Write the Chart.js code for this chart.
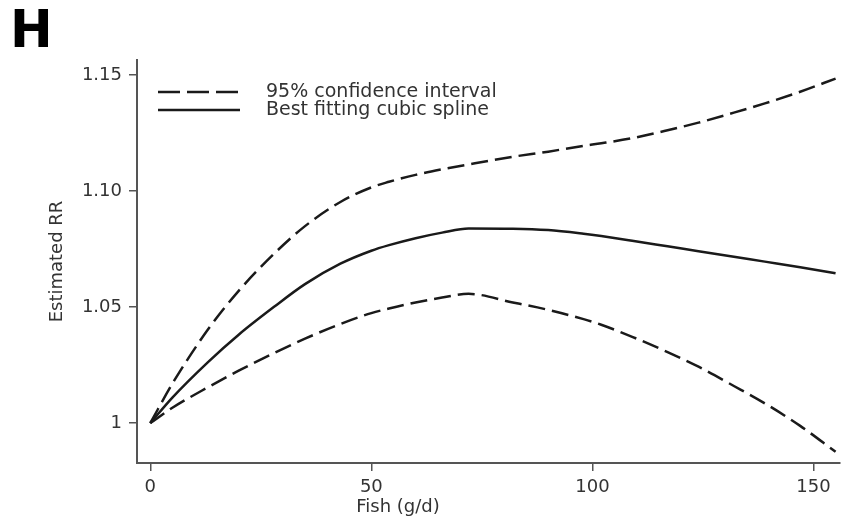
<!DOCTYPE html>
<html>
<head>
<meta charset="utf-8">
<title>Estimated RR by fish intake</title>
<script src="https://cdn.jsdelivr.net/npm/chart.js@4.4.1/dist/chart.umd.min.js"></script>
<style>
  html, body { margin: 0; padding: 0; background: #fff; }
  #wrap { position: relative; width: 846px; height: 522px; }
</style>
</head>
<body>
<div id="wrap"><canvas id="chart"></canvas></div>
<script>
// fish intake (g/d) where each curve was read
const fishGd = [0, 5, 13, 20, 28, 35, 43, 50, 54, 60, 66, 72, 82, 90, 98, 102, 109, 117, 124, 132, 139, 147, 155];

const upperCI = [1.000, 1.017, 1.0402, 1.057, 1.073, 1.0849, 1.0953, 1.1016, 1.104, 1.107, 1.1094, 1.1115,
  1.1148, 1.1170, 1.1195, 1.1206, 1.1228, 1.1262, 1.1295, 1.1338, 1.1378, 1.1428, 1.1485];

const spline = [1.000, 1.011, 1.0262, 1.0381, 1.0501, 1.0599, 1.0687, 1.0743, 1.0767, 1.0797, 1.0821, 1.0839,
  1.0838, 1.0832, 1.0816, 1.0806, 1.0786, 1.0762, 1.0741, 1.0717, 1.0696, 1.0672, 1.0646];

const lowerCI = [1.000, 1.0066, 1.0154, 1.0226, 1.0302, 1.0364, 1.0427, 1.0474, 1.0494, 1.0520, 1.0541, 1.0557,
  1.0520, 1.0488, 1.0448, 1.0424, 1.0372, 1.0306, 1.0243, 1.0160, 1.0085, 0.9988, 0.9876];

const xTickValues = [0, 50, 100, 150];
const yTickValues = [1, 1.05, 1.10, 1.15];
const yTickLabels = ['1', '1.05', '1.10', '1.15'];

const seriesLabels = ['95% confidence interval', 'Best fitting cubic spline'];

const INK = '#1a1a1a';
const AXIS = '#555';
const TEXT = '#333';
const DASH = [17, 7];
const FONT = 'DejaVu Sans';

function points(ys) {
  return fishGd.map((x, i) => ({ x, y: ys[i] }));
}

function lineSet(label, ys, dash) {
  return {
    label,
    data: points(ys),
    borderColor: INK,
    borderWidth: 2.5,
    borderDash: dash,
    pointRadius: 0,
    cubicInterpolationMode: 'monotone',
    fill: false,
  };
}

// legend sits inside the plot, plus the panel letter and the x title
const panelText = {
  id: 'panelText',
  afterDraw(chart) {
    const { ctx, chartArea } = chart;
    ctx.save();

    ctx.fillStyle = '#000';
    ctx.font = `bold 51px "${FONT}"`;
    ctx.textBaseline = 'alphabetic';
    ctx.textAlign = 'left';
    ctx.fillText('H', 10, 47);

    ctx.font = `19px "${FONT}"`;
    ctx.textBaseline = 'middle';
    [0, 1].forEach((idx, row) => {
      const ds = chart.data.datasets[idx];
      const y = chartArea.top + 32 + row * 18;
      const x0 = chartArea.left + 21;
      ctx.strokeStyle = ds.borderColor;
      ctx.lineWidth = ds.borderWidth;
      ctx.setLineDash(idx === 0 ? [22, 7] : []);
      ctx.beginPath();
      ctx.moveTo(x0, y);
      ctx.lineTo(x0 + 82, y);
      ctx.stroke();
      ctx.setLineDash([]);
      ctx.fillStyle = TEXT;
      ctx.fillText(ds.label, x0 + 108, y);
    });

    ctx.font = `18px "${FONT}"`;
    ctx.textAlign = 'center';
    ctx.fillText('Fish (g/d)', 398, 507);
    ctx.restore();
  },
};

const chart = new Chart(document.getElementById('chart'), {
  type: 'line',
  data: {
    datasets: [
      lineSet(seriesLabels[0], upperCI, DASH),
      lineSet(seriesLabels[1], spline, []),
      lineSet(seriesLabels[0], lowerCI, DASH),
    ],
  },
  options: {
    responsive: true,
    maintainAspectRatio: false,
    animation: false,
    events: [],
    layout: { padding: { top: 60, right: 6, left: 0, bottom: 0 } },
    plugins: {
      legend: { display: false },
      tooltip: { enabled: false },
    },
    scales: {
      x: {
        type: 'linear',
        min: -3,
        max: 156,
        afterBuildTicks: (s) => { s.ticks = xTickValues.map((v) => ({ value: v })); },
        afterFit: (s) => { s.height = 59; },
        border: { display: true, color: AXIS, width: 2 },
        grid: { display: true, drawOnChartArea: false, drawTicks: true, tickLength: 8, color: AXIS, lineWidth: 1.5 },
        ticks: { color: TEXT, font: { family: FONT, size: 18 }, padding: 6, maxRotation: 0 },
      },
      y: {
        min: 0.9828,
        max: 1.1565,
        afterBuildTicks: (s) => { s.ticks = yTickValues.map((v) => ({ value: v })); },
        afterFit: (s) => { s.width = 137; },
        border: { display: true, color: AXIS, width: 2 },
        grid: { display: true, drawOnChartArea: false, drawTicks: true, tickLength: 8, color: AXIS, lineWidth: 1.5 },
        ticks: {
          color: TEXT,
          font: { family: FONT, size: 18 },
          padding: 7,
          callback: (v, i) => yTickLabels[i],
        },
        title: {
          display: true,
          text: 'Estimated RR',
          color: TEXT,
          font: { family: FONT, size: 18 },
          padding: { top: 47, bottom: 0 },
        },
      },
    },
  },
  plugins: [panelText],
});
</script>
</body>
</html>
